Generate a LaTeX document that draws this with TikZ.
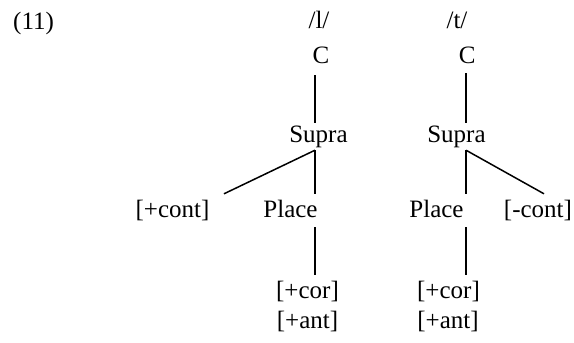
\documentclass[tikz,border=0pt]{standalone}
\usepackage{fontspec}
\setmainfont{Liberation Serif}
\begin{document}
\begin{tikzpicture}[x=1pt,y=-1pt,
  lab/.style={inner sep=0pt,text height=17pt,text depth=5pt,anchor=base,font=\fontsize{25}{30}\selectfont},
  branch/.style={line width=1.5pt}]
\useasboundingbox (0,0) rectangle (574,343);
\node[lab,anchor=base west] (ex) at (13,29) {(11)};
\node[lab] (ll) at (319,28) {/l/};
\node[lab] (tl) at (457,28) {/t/};
% tree 1
\node[lab] (c1) at (321,63) {C};
\node[lab] (supra1) at (318.5,142) {Supra};
\node[lab] (cont1) at (172.5,217) {[+cont]};
\node[lab] (place1) at (290.5,217) {Place};
\node[lab] (cor1) at (307.5,298) {[+cor]};
\node[lab] (ant1) at (307.5,328) {[+ant]};
% tree 2
\node[lab] (c2) at (467.3,63) {C};
\node[lab] (supra2) at (456.5,142) {Supra};
\node[lab] (place2) at (436.5,217) {Place};
\node[lab] (cont2) at (538,217) {[-cont]};
\node[lab] (cor2) at (448.5,298) {[+cor]};
\node[lab] (ant2) at (448,328) {[+ant]};
% connectors tree 1
\draw[branch] ([shift={(-6,7)}]c1.south) -- ([shift={(-3.5,-2)}]supra1.north);
\draw[branch] ([shift={(-3.5,3)}]supra1.south) -- ([shift={(51.5,-6)}]cont1.north);
\draw[branch] ([shift={(-3.5,3)}]supra1.south) -- ([shift={(24.5,-6)}]place1.north);
\draw[branch] ([shift={(24.5,5)}]place1.south) -- ([shift={(7.5,-6)}]cor1.north);
% connectors tree 2
\draw[branch] ([shift={(-1.3,5)}]c2.south) -- ([shift={(9.5,-2)}]supra2.north);
\draw[branch] ([shift={(9.5,3)}]supra2.south) -- ([shift={(29.5,-6)}]place2.north);
\draw[branch] ([shift={(9.5,3)}]supra2.south) -- ([shift={(6,-6)}]cont2.north);
\draw[branch] ([shift={(29.5,5)}]place2.south) -- ([shift={(17.5,-6)}]cor2.north);
\end{tikzpicture}
\end{document}
